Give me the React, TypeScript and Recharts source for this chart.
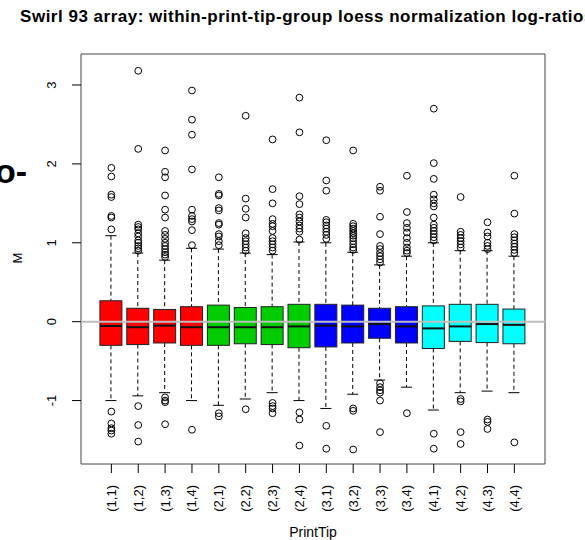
import React from 'react';
import { ComposedChart, Bar, Scatter, XAxis, YAxis, ReferenceLine, ReferenceArea, Customized } from 'recharts';

const tips = ['(1,1)', '(1,2)', '(1,3)', '(1,4)', '(2,1)', '(2,2)', '(2,3)', '(2,4)', '(3,1)', '(3,2)', '(3,3)', '(3,4)', '(4,1)', '(4,2)', '(4,3)', '(4,4)'];
const whiskerLow = [-1.0, -0.94, -0.9, -1.0, -1.06, -0.98, -0.9, -1.0, -1.1, -0.92, -0.74, -0.83, -1.12, -0.9, -0.88, -0.9];
const quart1 = [-0.3, -0.29, -0.27, -0.3, -0.3, -0.28, -0.29, -0.33, -0.32, -0.27, -0.21, -0.27, -0.34, -0.25, -0.265, -0.28];
const medians = [-0.055, -0.07, -0.05, -0.07, -0.07, -0.07, -0.07, -0.06, -0.05, -0.06, -0.03, -0.06, -0.085, -0.06, -0.03, -0.04];
const quart3 = [0.265, 0.17, 0.155, 0.19, 0.21, 0.18, 0.19, 0.22, 0.22, 0.21, 0.17, 0.19, 0.2, 0.22, 0.22, 0.16];
const whiskerHigh = [1.09, 0.87, 0.78, 0.93, 0.92, 0.87, 0.85, 1.01, 1.0, 0.88, 0.72, 0.83, 1.0, 0.9, 0.9, 0.83];
const outliers = [
  [1.95, 1.84, 1.61, 1.58, 1.34, 1.32, 1.17, -1.14, -1.29, -1.35, -1.38, -1.42],
  [3.18, 2.19, 1.23, 1.2, 1.17, 1.12, 1.08, 1.03, 1.0, 0.96, 0.93, 0.9, -1.07, -1.31, -1.52],
  [2.17, 1.9, 1.83, 1.6, 1.42, 1.32, 1.15, 1.1, 1.05, 1.0, 0.96, 0.92, 0.88, 0.85, 0.82, -0.96, -1.0, -1.02, -1.3],
  [2.93, 2.56, 2.37, 1.93, 1.42, 1.34, 1.3, 1.27, 1.16, 0.97, -1.37],
  [1.83, 1.62, 1.6, 1.44, 1.41, 1.25, 1.23, 1.11, 1.08, 1.02, 0.97, -1.16, -1.2],
  [2.61, 1.56, 1.43, 1.32, 1.12, 1.06, 1.02, 0.98, 0.94, 0.9, -1.11],
  [2.31, 1.68, 1.5, 1.3, 1.24, 1.21, 1.15, 1.06, 1.02, 0.98, 0.94, 0.9, -1.03, -1.07, -1.1, -1.16],
  [2.84, 2.4, 1.59, 1.49, 1.36, 1.32, 1.27, 1.22, 1.18, 1.14, 1.04, -1.15, -1.24, -1.57],
  [2.3, 1.79, 1.66, 1.29, 1.26, 1.22, 1.18, 1.14, 1.1, 1.05, -1.32, -1.61],
  [2.17, 1.24, 1.21, 1.18, 1.15, 1.12, 1.09, 1.06, 1.02, 0.98, 0.94, 0.91, -1.1, -1.13, -1.62],
  [1.71, 1.66, 1.33, 1.11, 0.96, 0.92, 0.87, 0.83, 0.79, 0.75, -0.78, -0.83, -0.87, -0.9, -1.0, -1.4],
  [1.85, 1.39, 1.25, 1.19, 1.13, 1.06, 1.0, 0.94, 0.9, 0.87, -1.16],
  [2.7, 2.01, 1.81, 1.61, 1.55, 1.5, 1.46, 1.32, 1.23, 1.19, 1.15, 1.11, 1.07, 1.03, -1.42, -1.61],
  [1.58, 1.14, 1.1, 1.06, 1.02, 0.98, 0.94, -0.98, -1.01, -1.4, -1.55],
  [1.26, 1.13, 1.08, 1.0, 0.96, 0.92, -1.24, -1.27, -1.36],
  [1.85, 1.37, 1.11, 1.07, 1.03, 0.99, 0.95, 0.91, 0.87, -1.53],
];
const groupColors = ['#FF0000', '#00CC00', '#0000FF', '#00FFFF'];
const yTicks = [-1, 0, 1, 2, 3];
const xTicks = tips.map((_, i) => i + 1);
const titleText = 'Swirl 93 array: within-print-tip-group loess normalization log-ratios';

const X_DOMAIN: [number, number] = [-0.13, 17.14];
const Y_DOMAIN: [number, number] = [-1.804, 3.393];

const boxData = tips.map((t, i) => ({
  x: i + 1,
  range: [whiskerLow[i], whiskerHigh[i]],
  q1: quart1[i],
  med: medians[i],
  q3: quart3[i],
  lo: whiskerLow[i],
  hi: whiskerHigh[i],
  color: groupColors[Math.floor(i / 4)],
}));

const outlierData = outliers.flatMap((vals, i) => vals.map((v) => ({ x: i + 1, y: v })));

const FONT = '"Liberation Sans", Arial, Helvetica, sans-serif';

const BoxShape = (props: any) => {
  const { x, y, width, height, payload } = props;
  if (!payload) return null;
  const top = Math.min(y, y + height);
  const bot = Math.max(y, y + height);
  const ppu = (bot - top) / (payload.hi - payload.lo);
  const toY = (v: number) => top + (payload.hi - v) * ppu;
  const cx = x + width / 2;
  const capHalf = width / 4;
  const yq1 = toY(payload.q1);
  const yq3 = toY(payload.q3);
  const ym = toY(payload.med);
  return (
    <g>
      <line x1={cx} x2={cx} y1={top} y2={yq3} stroke="#000" strokeWidth={1} strokeDasharray="4 3" />
      <line x1={cx} x2={cx} y1={yq1} y2={bot} stroke="#000" strokeWidth={1} strokeDasharray="4 3" />
      <line x1={cx - capHalf} x2={cx + capHalf} y1={top} y2={top} stroke="#000" strokeWidth={1} />
      <line x1={cx - capHalf} x2={cx + capHalf} y1={bot} y2={bot} stroke="#000" strokeWidth={1} />
      <rect x={x} y={yq3} width={width} height={yq1 - yq3} fill={payload.color} stroke="#222" strokeWidth={1} />
      <line x1={x} x2={x + width} y1={ym} y2={ym} stroke="#111" strokeWidth={2} />
    </g>
  );
};

const OutlierShape = (props: any) => (
  <circle cx={props.cx} cy={props.cy} r={3.4} fill="none" stroke="#000" strokeWidth={1} />
);

const XTick = (props: any) => {
  const { x, y, payload } = props;
  const ty = y + 10;
  return (
    <text x={x} y={ty} transform={`rotate(-90, ${x}, ${ty})`} textAnchor="end" dominantBaseline="central" fontSize={13} fontFamily={FONT} fill="#000">
      {tips[payload.value - 1]}
    </text>
  );
};

const YTick = (props: any) => {
  const { x, y, payload } = props;
  const tx = x - 14;
  return (
    <text x={tx} y={y} transform={`rotate(-90, ${tx}, ${y})`} textAnchor="middle" fontSize={13} fontFamily={FONT} fill="#000">
      {payload.value}
    </text>
  );
};

const Decorations = () => (
  <g>
    <text x={307} y={22} textAnchor="middle" fontSize={17} letterSpacing={0.5} fontWeight="bold" fontFamily={FONT} fill="#000">
      {titleText}
    </text>
    <text x={-5} y={183} fontSize={34} fontWeight="bold" fontFamily={FONT} fill="#000">
      o-
    </text>
    <text x={22} y={258} transform="rotate(-90, 22, 258)" textAnchor="middle" fontSize={13} fontFamily={FONT} fill="#000">
      M
    </text>
    <text x={313} y={537} textAnchor="middle" fontSize={14} fontFamily={FONT} fill="#000">
      PrintTip
    </text>
  </g>
);

export default function App() {
  return (
    <div style={{ position: 'absolute', left: 0, top: 0, width: 585, height: 540, background: '#fff', overflow: 'hidden' }}>
      <ComposedChart width={585} height={540} data={boxData} margin={{ top: 54, right: 40, left: 0, bottom: 0 }}>
        <XAxis
          dataKey="x"
          type="number"
          domain={X_DOMAIN}
          ticks={xTicks}
          allowDataOverflow
          height={76}
          axisLine={false}
          tickLine={{ stroke: '#000' }}
          tickSize={9}
          tick={<XTick />}
          interval={0}
        />
        <YAxis
          type="number"
          domain={Y_DOMAIN}
          ticks={yTicks}
          allowDataOverflow
          width={81}
          axisLine={false}
          tickLine={{ stroke: '#000' }}
          tickSize={9}
          tick={<YTick />}
          interval={0}
        />
        <Bar dataKey="range" barSize={22} shape={<BoxShape />} isAnimationActive={false} />
        <Scatter data={outlierData} dataKey="y" shape={<OutlierShape />} isAnimationActive={false} />
        <ReferenceLine y={0} stroke="#BEBEBE" strokeWidth={2} />
        <ReferenceArea x1={X_DOMAIN[0]} x2={X_DOMAIN[1]} y1={Y_DOMAIN[0]} y2={Y_DOMAIN[1]} fill="none" fillOpacity={0} stroke="#444" strokeWidth={1} ifOverflow="visible" />
        <Customized component={Decorations} />
      </ComposedChart>
    </div>
  );
}
